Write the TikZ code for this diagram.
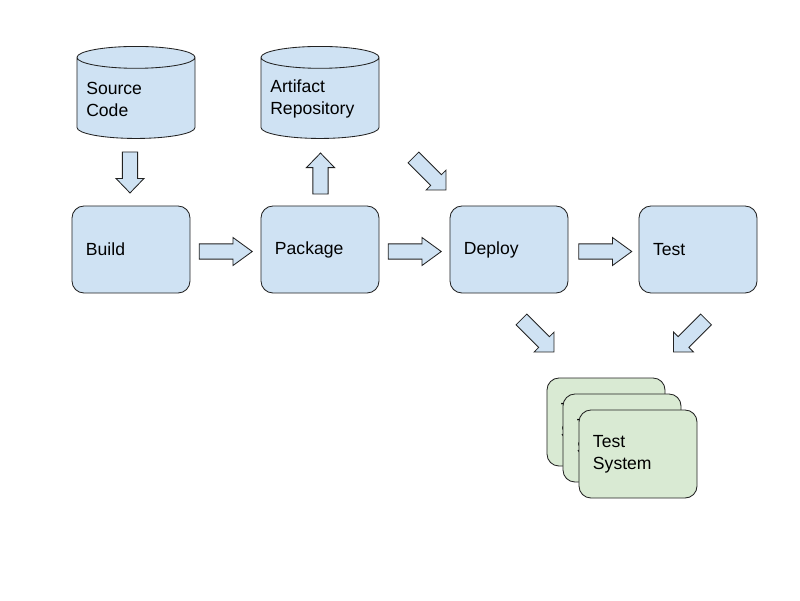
\documentclass[tikz,border=0pt]{standalone}
\usepackage{fontspec}
\setmainfont{Liberation Sans}
\usetikzlibrary{shapes.geometric,shapes.arrows,calc}

\definecolor{stageblue}{HTML}{CFE2F3}
\definecolor{systemgreen}{HTML}{D9EAD3}
\definecolor{edgegray}{HTML}{222222}

\begin{document}
\begin{tikzpicture}[x=0.025cm,y=-0.025cm,font=\fontsize{12.5}{15.6}\selectfont,
	stage node/.style={draw=edgegray,line width=0.6pt,fill=stageblue,rounded corners=0.3cm,minimum width=2.95cm,minimum height=2.175cm,text width=2.25cm,inner xsep=0.35cm,align=left},
	system node/.style={stage node,fill=systemgreen,minimum height=2.2cm},
	store node/.style={cylinder,shape border rotate=90,draw=edgegray,line width=0.6pt,fill=stageblue,aspect=0.2,text width=2.5cm,minimum width=2.95cm,minimum height=2.3cm,anchor=north},
	store text/.style={inner sep=0pt,align=left,anchor=west},
	block arrow/.style={single arrow,draw=edgegray,line width=0.6pt,fill=stageblue,inner xsep=0pt,inner ysep=0.18cm,single arrow head extend=0.16cm}]

	\useasboundingbox (0,0) rectangle (800,600);

	\foreach \place/\name/\text in {{(131,249.5)/build/Build}, {(320,249.5)/package/Package}, {(509,249.5)/deploy/Deploy}, {(698,249.5)/test/Test}}
		\node[stage node] (\name) at \place {\text};

	% repositories
	\node[store node] (source) at (136,46) {};
	\node[store node] (artifact) at (320,46) {};
	\node[store text] (sourcetext) at ($(source.north)+(-50,53)$) {Source\\Code};
	\node[store text] (artifacttext) at ($(artifact.north)+(-50,53)$) {Artifact\\Repository};

	% stacked test systems
	\foreach \place/\name in {{(606,422)/sysa}, {(622,438)/sysb}, {(638,454)/sysc}}
		\node[system node] (\name) at \place {Test\\System};

	\foreach \place/\turn/\len/\tip/\name in {(130,168.5)/-90/1.025/88/down, (320.5,177.5)/90/1.025/88/up, (220.5,251.5)/0/1.325/72/buildpkg, (409.5,251.5)/0/1.325/72/pkgdeploy, (600,251.5)/0/1.325/72/deploytest, (427,171)/-45/1.15/90/fetch, (535,333)/-45/1.15/90/install, (692.5,333)/-135/1.15/90/run}
		\node[block arrow,rotate=\turn,minimum height=\len cm,single arrow tip angle=\tip] (\name) at \place {};
\end{tikzpicture}
\end{document}
